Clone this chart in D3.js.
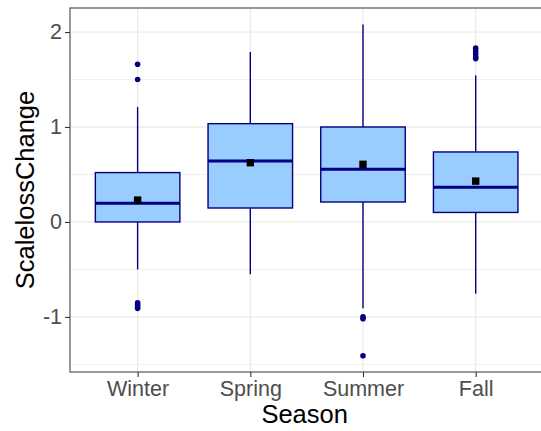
<!DOCTYPE html>
<html>
<head>
<meta charset="utf-8">
<script src="https://cdn.jsdelivr.net/npm/d3@7"></script>
<style>
  body { margin: 0; background: #fff; }
  svg { display: block; font-family: "Liberation Sans", Arial, sans-serif; }
</style>
</head>
<body>
<svg id="chart"></svg>
<script>
const width = 541;
const height = 431;

// box stats
const seasons = ['Winter', 'Spring', 'Summer', 'Fall'];
const lowWhisker = [-0.50, -0.55, -0.91, -0.755];
const q1 = [0.0, 0.147, 0.21, 0.10];
const medians = [0.197, 0.642, 0.555, 0.365];
const q3 = [0.52, 1.035, 1.0, 0.737];
const highWhisker = [1.21, 1.79, 2.08, 1.544];
const means = [0.23, 0.624, 0.607, 0.43];
const outliers = [
	[1.66, 1.50, -0.85, -0.87, -0.89, -0.91],
	[],
	[-1.0, -1.02, -1.41],
	[1.83, 1.80, 1.77, 1.74, 1.72]
];
const yTicks = [-1, 0, 1, 2];
const yMinor = [-1.5, -0.5, 0.5, 1.5];

const panel = { left: 70, right: 543.3, top: 8, bottom: 372 };

const svg = d3.select('#chart')
	.attr('width', width)
	.attr('height', height);

const x = d3.scalePoint()
	.domain(seasons)
	.range([panel.left, panel.right])
	.padding(0.6);

const y = d3.scaleLinear()
	.domain([-1.58, 2.253])
	.range([panel.bottom, panel.top]);

const boxW = x.step() * 0.75;

// grid
const grid = svg.append('g');
grid.selectAll('.minor')
	.data(yMinor)
	.join('line')
	.attr('x1', panel.left).attr('x2', panel.right)
	.attr('y1', d => y(d)).attr('y2', d => y(d))
	.attr('stroke', '#ebebeb').attr('stroke-width', 0.8);
grid.selectAll('.major')
	.data(yTicks)
	.join('line')
	.attr('x1', panel.left).attr('x2', panel.right)
	.attr('y1', d => y(d)).attr('y2', d => y(d))
	.attr('stroke', '#ebebeb').attr('stroke-width', 1.3);
grid.selectAll('.vmajor')
	.data(seasons)
	.join('line')
	.attr('x1', d => x(d)).attr('x2', d => x(d))
	.attr('y1', panel.top).attr('y2', panel.bottom)
	.attr('stroke', '#ebebeb').attr('stroke-width', 1.3);

const navy = '#000080';

// boxes
const boxes = svg.append('g')
	.selectAll('g')
	.data(seasons)
	.join('g');

boxes.append('line')
	.attr('x1', d => x(d)).attr('x2', d => x(d))
	.attr('y1', (d, i) => y(q3[i])).attr('y2', (d, i) => y(highWhisker[i]))
	.attr('stroke', navy).attr('stroke-width', 1.4);
boxes.append('line')
	.attr('x1', d => x(d)).attr('x2', d => x(d))
	.attr('y1', (d, i) => y(q1[i])).attr('y2', (d, i) => y(lowWhisker[i]))
	.attr('stroke', navy).attr('stroke-width', 1.4);
boxes.append('rect')
	.attr('x', d => x(d) - boxW / 2)
	.attr('width', boxW)
	.attr('y', (d, i) => y(q3[i]))
	.attr('height', (d, i) => y(q1[i]) - y(q3[i]))
	.attr('fill', '#99ccff')
	.attr('stroke', navy)
	.attr('stroke-width', 1.4);
boxes.append('line')
	.attr('x1', d => x(d) - boxW / 2).attr('x2', d => x(d) + boxW / 2)
	.attr('y1', (d, i) => y(medians[i])).attr('y2', (d, i) => y(medians[i]))
	.attr('stroke', navy).attr('stroke-width', 3);
boxes.each(function (d, i) {
	d3.select(this).selectAll('circle')
		.data(outliers[i])
		.join('circle')
		.attr('cx', x(d))
		.attr('cy', v => y(v))
		.attr('r', 2.8)
		.attr('fill', navy);
});
boxes.append('rect')
	.attr('x', d => x(d) - 3.7)
	.attr('y', (d, i) => y(means[i]) - 3.7)
	.attr('width', 7.4).attr('height', 7.4)
	.attr('fill', '#000');

// panel border
svg.append('rect')
	.attr('x', panel.left).attr('y', panel.top)
	.attr('width', panel.right - panel.left)
	.attr('height', panel.bottom - panel.top)
	.attr('fill', 'none')
	.attr('stroke', '#555').attr('stroke-width', 1.2);

// axes
const yAxis = svg.append('g')
	.attr('transform', `translate(${panel.left},0)`)
	.call(d3.axisLeft(y).tickValues(yTicks).tickSize(5).tickPadding(3).tickFormat(d3.format('d')));
const xAxis = svg.append('g')
	.attr('transform', `translate(0,${panel.bottom})`)
	.call(d3.axisBottom(x).tickSize(5).tickPadding(4));
for (let ax of [yAxis, xAxis]) {
	ax.select('.domain').remove();
	ax.selectAll('.tick line').attr('stroke', '#333').attr('stroke-width', 1.1);
	ax.selectAll('.tick text')
		.attr('fill', '#4d4d4d')
		.attr('font-size', 21.5)
		.attr('font-family', '"Liberation Sans", Arial, sans-serif');
}
// plain hyphen minus like R
yAxis.selectAll('.tick text').text(d => d < 0 ? '-' + Math.abs(d) : d);

// titles
svg.append('text')
	.attr('x', (panel.left + panel.right) / 2 - 2)
	.attr('y', 423)
	.attr('text-anchor', 'middle')
	.attr('font-size', 25.5)
	.attr('fill', '#000')
	.text('Season');
svg.append('text')
	.attr('transform', `translate(34,${(panel.top + panel.bottom) / 2}) rotate(-90)`)
	.attr('text-anchor', 'middle')
	.attr('font-size', 25.5)
	.attr('fill', '#000')
	.text('ScalelossChange');
</script>
</body>
</html>
